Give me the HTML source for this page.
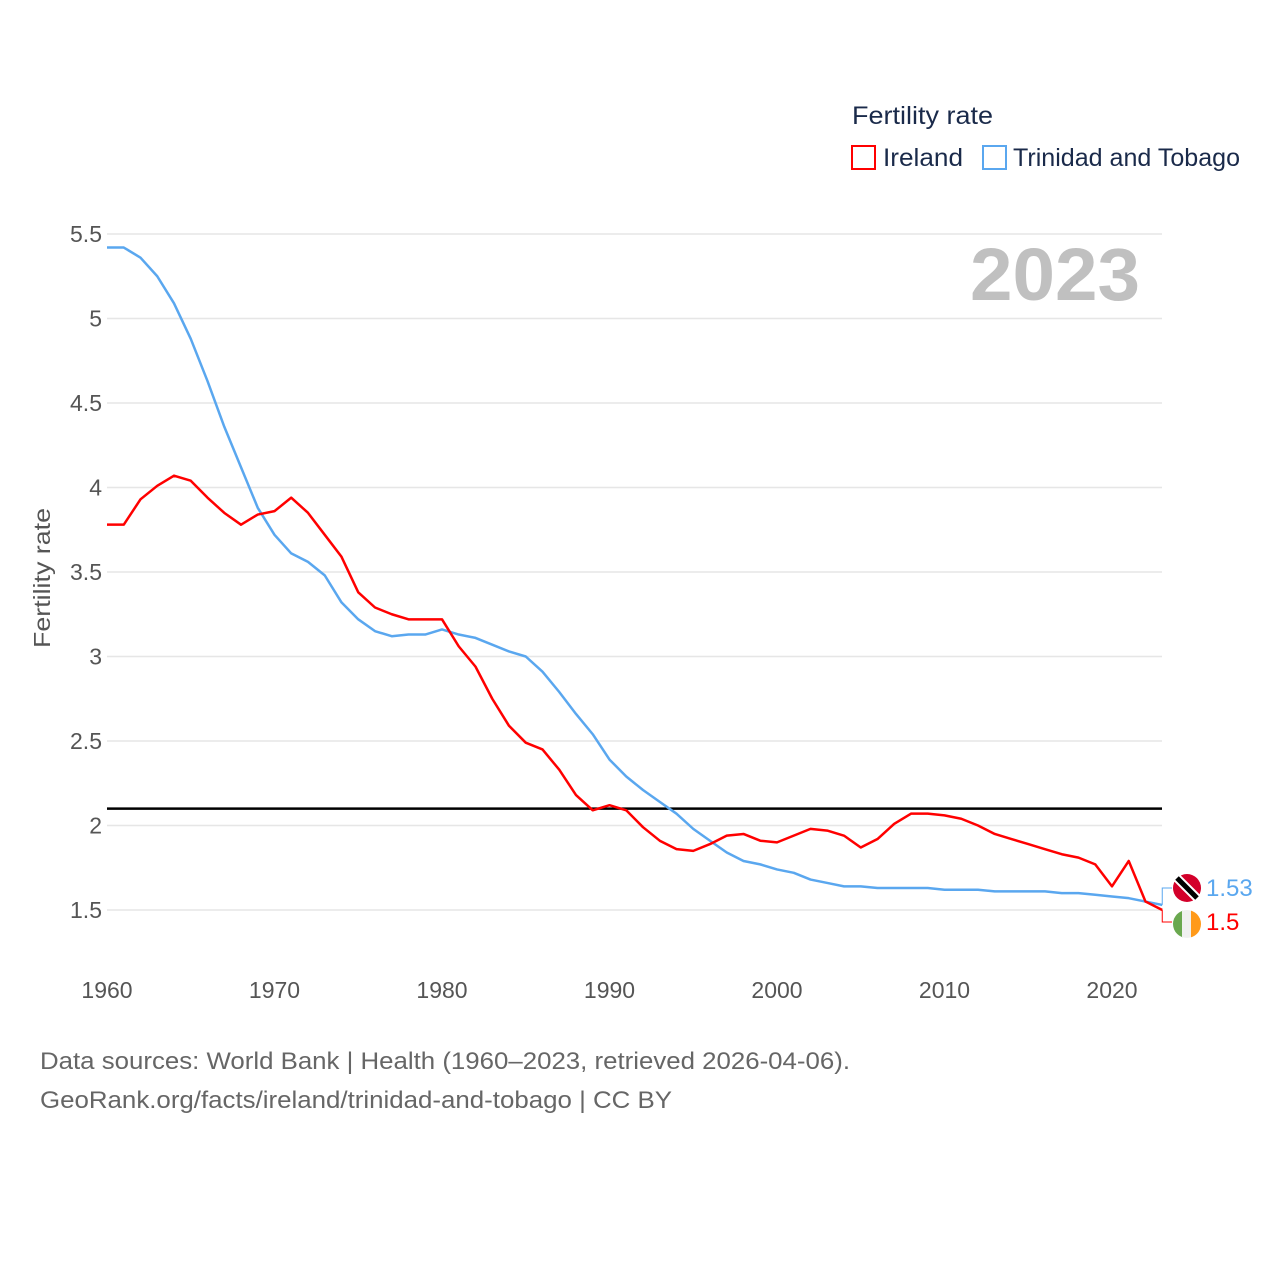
<!DOCTYPE html>
<html><head><meta charset="utf-8"><style>
body{margin:0;background:#fff;font-family:"Liberation Sans",sans-serif;}
svg text{font-family:"Liberation Sans",sans-serif;}
</style></head><body>
<svg id="chart" width="1280" height="1280" xmlns="http://www.w3.org/2000/svg">
<g id="grid"></g>
<g id="lines"></g>
<text x="852" y="124" font-size="25" fill="#1a2a4a" textLength="141" lengthAdjust="spacingAndGlyphs">Fertility rate</text>
<rect x="852" y="146" width="23" height="23" fill="none" stroke="#ff0000" stroke-width="2"/>
<text x="883" y="166" font-size="25" fill="#1a2a4a" textLength="80" lengthAdjust="spacingAndGlyphs">Ireland</text>
<rect x="983" y="146" width="23" height="23" fill="none" stroke="#5aa7ef" stroke-width="2"/>
<text x="1013" y="166" font-size="25" fill="#1a2a4a" textLength="227" lengthAdjust="spacingAndGlyphs">Trinidad and Tobago</text>
<text x="1140" y="300" font-size="74" font-weight="bold" fill="#c0c0c0" text-anchor="end" textLength="170" lengthAdjust="spacingAndGlyphs">2023</text>
<text transform="translate(50,578) rotate(-90)" font-size="23" fill="#555" text-anchor="middle" textLength="140" lengthAdjust="spacingAndGlyphs">Fertility rate</text>
<text x="40" y="1069" font-size="24" fill="#666" textLength="810" lengthAdjust="spacingAndGlyphs">Data sources: World Bank | Health (1960–2023, retrieved 2026-04-06).</text>
<text x="40" y="1108" font-size="24" fill="#666" textLength="632" lengthAdjust="spacingAndGlyphs">GeoRank.org/facts/ireland/trinidad-and-tobago | CC BY</text>
</svg>
<script>
const years=[];for(let y=1960;y<=2023;y++)years.push(y);
const ireland=[3.78,3.78,3.93,4.01,4.07,4.04,3.94,3.85,3.78,3.84,3.86,3.94,3.85,3.72,3.59,3.38,3.29,3.25,3.22,3.22,3.22,3.06,2.94,2.75,2.59,2.49,2.45,2.33,2.18,2.09,2.12,2.09,1.99,1.91,1.86,1.85,1.89,1.94,1.95,1.91,1.90,1.94,1.98,1.97,1.94,1.87,1.92,2.01,2.07,2.07,2.06,2.04,2.00,1.95,1.92,1.89,1.86,1.83,1.81,1.77,1.64,1.79,1.55,1.50];
const trinidad=[5.42,5.42,5.36,5.25,5.09,4.88,4.63,4.36,4.12,3.88,3.72,3.61,3.56,3.48,3.32,3.22,3.15,3.12,3.13,3.13,3.16,3.13,3.11,3.07,3.03,3.00,2.91,2.79,2.66,2.54,2.39,2.29,2.21,2.14,2.07,1.98,1.91,1.84,1.79,1.77,1.74,1.72,1.68,1.66,1.64,1.64,1.63,1.63,1.63,1.63,1.62,1.62,1.62,1.61,1.61,1.61,1.61,1.60,1.60,1.59,1.58,1.57,1.55,1.53];
const yTicks=[1.5,2,2.5,3,3.5,4,4.5,5,5.5];
const xTicks=[1960,1970,1980,1990,2000,2010,2020];
const replacement=[2.1];
const NS="http://www.w3.org/2000/svg";
const X=y=>107+(y-1960)*16.75;
const Y=v=>910-(v-1.5)*169;
function mk(t,a,p){const e=document.createElementNS(NS,t);for(const k in a)e.setAttribute(k,a[k]);p.appendChild(e);return e;}
const grid=document.getElementById('grid'),lines=document.getElementById('lines');
yTicks.forEach(t=>{
 const l=mk('line',{x1:107,x2:1162,y1:Y(t),y2:Y(t),stroke:'#e6e6e6','stroke-width':1.5},grid);
 
 
 const tx=mk('text',{x:102,y:Y(t)+8,'font-size':23,fill:'#555','text-anchor':'end'},grid);
 tx.textContent=String(t);
 
 
});
xTicks.forEach(t=>{
 const tx=mk('text',{x:X(t),y:998,'font-size':23,fill:'#555','text-anchor':'middle'},grid);
 tx.textContent=String(t);
 
 
});
replacement.forEach(v=>{
 const l=mk('line',{x1:107,x2:1162,y1:Y(v),y2:Y(v),stroke:'#000','stroke-width':2.5},lines);
 
 
});
function series(arr,col,name){
 const p=mk('polyline',{points:arr.map((v,i)=>X(years[i])+','+Y(v)).join(' '),fill:'none',stroke:col,'stroke-width':2.5,'stroke-linejoin':'round'},lines);
 
 
}
series(trinidad,'#5aa7ef','trinidad-line');
series(ireland,'#ff0000','ireland-line');
const lt=trinidad[trinidad.length-1], li=ireland[ireland.length-1];
const lx=X(2023);
const c1=mk('polyline',{points:`${lx},${Y(lt)} ${lx},888 1172,888`,fill:'none',stroke:'#5aa7ef','stroke-width':1},lines);


const c2=mk('polyline',{points:`${lx},${Y(li)} ${lx},922 1172,922`,fill:'none',stroke:'#ff0000','stroke-width':1},lines);


const ft=mk('g',{},lines);


mk('circle',{cx:1187,cy:888,r:14,fill:'#d3002a'},ft);
mk('line',{x1:1177,y1:878,x2:1197,y2:898,stroke:'#fff','stroke-width':9},ft);
mk('line',{x1:1177,y1:878,x2:1197,y2:898,stroke:'#000','stroke-width':5},ft);
const fi=mk('g',{},lines);


mk('defs',{},fi).innerHTML='<clipPath id="cc"><circle cx="1187" cy="924" r="14"/></clipPath>';
mk('rect',{x:1173,y:910,width:10,height:28,fill:'#6aa84f','clip-path':'url(#cc)'},fi);
mk('rect',{x:1182,y:910,width:10,height:28,fill:'#f0f0f0','clip-path':'url(#cc)'},fi);
mk('rect',{x:1191,y:910,width:10,height:28,fill:'#ff9a1a','clip-path':'url(#cc)'},fi);
const vt=mk('text',{x:1206,y:896,'font-size':24,fill:'#5aa7ef'},lines);
vt.textContent=String(lt);


const vi=mk('text',{x:1206,y:930,'font-size':24,fill:'#ff0000'},lines);
vi.textContent=String(li);


</script>
</body></html>
